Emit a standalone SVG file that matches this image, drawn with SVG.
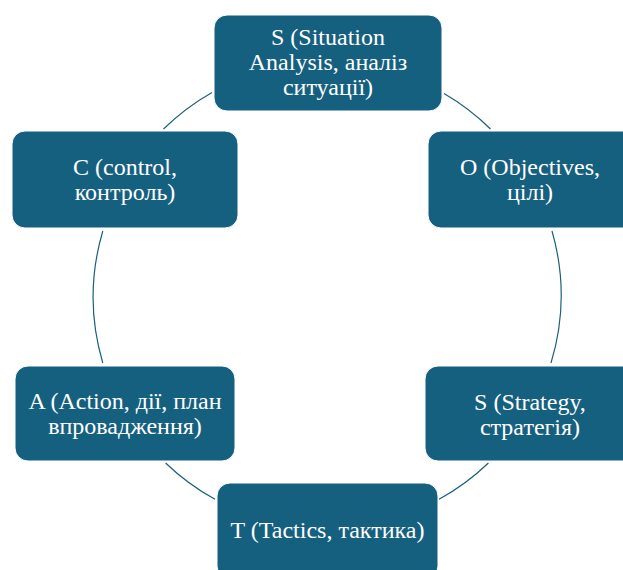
<svg xmlns="http://www.w3.org/2000/svg" width="623" height="570" viewBox="0 0 623 570">
<style>
.box{fill:#16607f;stroke:#ffffff;stroke-width:1}
.t{font-family:"Liberation Serif","Times New Roman","DejaVu Serif",serif;font-size:24px;fill:#ffffff;text-anchor:middle}
.arc{fill:none;stroke:#1b5f7c;stroke-width:1.2}
</style>
<rect width="623" height="570" fill="#ffffff"/>
<g id="connectors">
<path class="arc" d="M163.5 129 A233 233 0 0 1 212 92.4"/>
<path class="arc" d="M444 93.5 A233 233 0 0 1 490.5 129"/>
<path class="arc" d="M552 231 A233 233 0 0 1 551 363"/>
<path class="arc" d="M488.4 463 A233 233 0 0 1 439 499.3"/>
<path class="arc" d="M215 499.3 A233 233 0 0 1 165.6 463"/>
<path class="arc" d="M102.8 363 A233 233 0 0 1 102.8 231"/>
</g>
<g id="node-s1">
<rect class="box" x="214" y="15" width="228" height="96" rx="13"/>
<text class="t" x="328" y="45">S (Situation</text>
<text class="t" x="328" y="70">Analysis, аналіз</text>
<text class="t" x="328" y="94.5">ситуації)</text>
</g>
<g id="node-o">
<rect class="box" x="428" y="131" width="228" height="97" rx="13"/>
<text class="t" x="530" y="175">O (Objectives,</text>
<text class="t" x="530" y="200">цілі)</text>
</g>
<g id="node-s2">
<rect class="box" x="425" y="366" width="228" height="95" rx="13"/>
<text class="t" x="530" y="409.5">S (Strategy,</text>
<text class="t" x="530" y="434.5">стратегія)</text>
</g>
<g id="node-t">
<rect class="box" x="217" y="483" width="221" height="96" rx="13"/>
<text class="t" x="327.5" y="538.3">T (Tactics, тактика)</text>
</g>
<g id="node-a">
<rect class="box" x="15" y="366" width="220" height="95" rx="13"/>
<text class="t" x="125" y="408.8">A (Action, дії, план</text>
<text class="t" x="125" y="433.8">впровадження)</text>
</g>
<g id="node-c">
<rect class="box" x="12" y="131" width="226" height="97" rx="13"/>
<text class="t" x="125" y="175">C (control,</text>
<text class="t" x="125" y="200">контроль)</text>
</g>
</svg>
